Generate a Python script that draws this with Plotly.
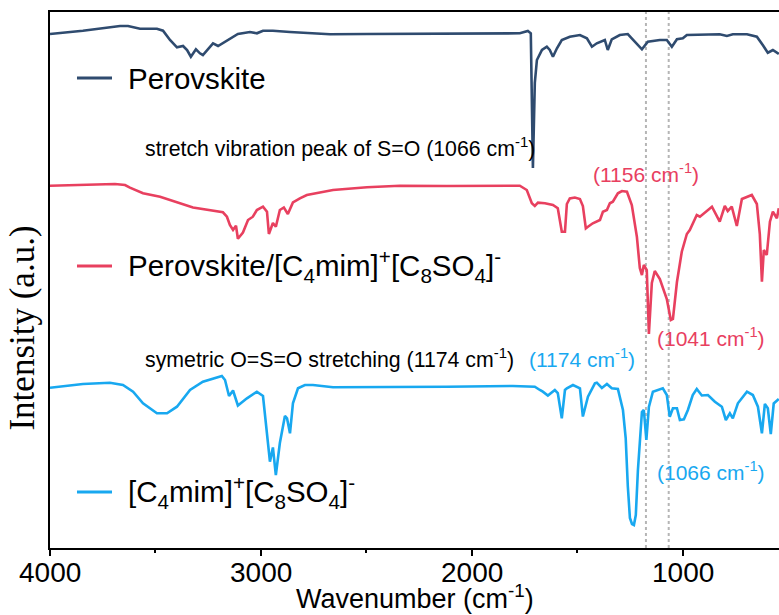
import plotly.graph_objects as go

# FTIR spectra (wavenumber in cm-1, intensity in arbitrary units, stacked)
wn_perov = [4000, 3844, 3668, 3630, 3573, 3493, 3464, 3431, 3398, 3369,
            3350, 3332, 3308, 3289, 3275, 3251, 3227, 3203, 3161, 3109,
            3052, 3019, 2990, 2943, 2862, 2734, 2672, 2497, 2341, 2118,
            1772, 1734, 1720, 1710, 1701, 1691, 1667, 1644, 1630, 1615,
            1596, 1573, 1535, 1487, 1454, 1430, 1407, 1369, 1355, 1336,
            1298, 1260, 1217, 1193, 1165, 1108, 1075, 1051, 1027, 999,
            980, 918, 824, 790, 762, 695, 648, 620, 596, 572, 544]
int_perov = [514, 517.3, 522, 522, 519.3, 519.3, 517.3, 508, 500.7, 502,
             498, 491.3, 498.7, 494.7, 493, 498.7, 504.7, 502, 507.3, 514,
             516, 514.7, 517.3, 517.3, 516, 514.7, 513.7, 514, 514, 514,
             514.7, 517, 514.7, 380, 465, 488, 498, 501.3, 498, 491.3,
             499.7, 508, 511.3, 513, 509.7, 501.3, 504.7, 508, 498, 508.7,
             513, 514, 504.7, 498.7, 506.3, 508, 508, 501.3, 508.7, 509.7,
             513, 513.3, 513.7, 512, 513.7, 513.7, 511.3, 503, 495.3, 498, 494]

wn_mix = [4000, 3844, 3692, 3644, 3621, 3559, 3478, 3322, 3180, 3161,
          3147, 3132, 3118, 3109, 3085, 3061, 3038, 3019, 2990, 2971,
          2962, 2943, 2929, 2910, 2891, 2872, 2848, 2815, 2782, 2658,
          2497, 2341, 2118, 1772, 1739, 1715, 1701, 1686, 1653, 1615,
          1592, 1573, 1558, 1549, 1535, 1511, 1487, 1473, 1459, 1449,
          1426, 1392, 1378, 1359, 1345, 1331, 1307, 1288, 1264, 1241,
          1217, 1203, 1193, 1184, 1170, 1160, 1146, 1132, 1108, 1075,
          1056, 1046, 1027, 1004, 980, 966, 933, 918, 861, 824,
          800, 786, 767, 743, 719, 672, 648, 634, 624, 615,
          601, 586, 572, 553, 544]
int_mix = [362.3, 363.3, 364, 363, 360.3, 354.7, 351.3, 340.5, 335.7, 331.3,
           323, 318, 322.3, 309.3, 315.5, 328, 331.3, 338, 341.3, 336.3,
           314, 325, 321.3, 338, 340.5, 334, 345.5, 349.7, 353, 358,
           360.7, 362.3, 362, 362.3, 358, 344.7, 342, 345.3, 344.7, 343,
           339.7, 316.3, 316.3, 344, 349.5, 350.5, 349, 342, 319.7, 321.3,
           324.7, 328, 336.3, 338, 344.7, 346.3, 354.7, 357, 356.3, 343,
           311.3, 280, 273, 283, 278, 214, 265, 277, 269, 249,
           228, 229, 266, 296.3, 314, 318, 333, 331.3, 341.3, 326.3,
           342, 337, 341.3, 322, 349, 353, 344, 314, 266.3, 298,
           293, 326.3, 336.3, 329.7, 339.7]

wn_il = [4000, 3844, 3716, 3654, 3606, 3559, 3493, 3445, 3398, 3336,
         3275, 3203, 3185, 3170, 3151, 3132, 3109, 3066, 3019, 2990,
         2971, 2957, 2943, 2929, 2910, 2886, 2876, 2862, 2848, 2824,
         2791, 2753, 2658, 2341, 2118, 1805, 1701, 1677, 1663, 1639,
         1615, 1606, 1592, 1573, 1558, 1549, 1520, 1487, 1473, 1449,
         1416, 1407, 1383, 1359, 1336, 1307, 1283, 1270, 1260, 1250,
         1240, 1231, 1222, 1212, 1193, 1184, 1172, 1160, 1141, 1108,
         1094, 1075, 1061, 1046, 1027, 1013, 994, 975, 952, 933,
         909, 880, 847, 814, 795, 776, 762, 738, 695, 667,
         643, 624, 610, 596, 582, 568, 544]
int_il = [160.3, 164, 165.3, 163, 156.3, 144.7, 134.7, 134.7, 141.3, 158,
          166.3, 171.3, 172, 168, 152, 157.5, 142.5, 149.7, 156.3, 152,
          113, 86.3, 100.5, 73, 105, 132, 129.7, 114.7, 144.7, 159.7,
          163, 163, 160.7, 160.7, 161.3, 162, 161.3, 158, 156.3, 152.5,
          156.3, 158, 155, 129.7, 158, 159.7, 163, 159.7, 131.5, 151.3,
          164.7, 165.3, 160, 164, 159.7, 159, 138, 110, 62, 30,
          24, 23, 33, 78, 136, 138, 108, 141, 156.3, 159,
          159.7, 153, 131.3, 139.7, 139.7, 128, 128.7, 138, 153, 159,
          152.5, 153, 146.3, 141.3, 128, 134.7, 129.7, 144.7, 156.3, 153,
          141.3, 114.7, 144, 139.7, 114, 144.5, 149]

series_names = [
    "Perovskite",
    "Perovskite/[C<sub>4</sub>mim]<sup>+</sup>[C<sub>8</sub>SO<sub>4</sub>]<sup>-</sup>",
    "[C<sub>4</sub>mim]<sup>+</sup>[C<sub>8</sub>SO<sub>4</sub>]<sup>-</sup>",
]
series_colors = ["#2f4b6f", "#e8405f", "#18a8f0"]

# reference wavenumbers marked with dotted guides
guide_wn = [1174, 1066]

x_ticks = [4000, 3000, 2000, 1000]
x_range = [4000, 543]
y_range = [0, 536]

FONT = "Arial, Liberation Sans, sans-serif"

fig = go.Figure()
for wn, inten, name, col in zip([wn_perov, wn_mix, wn_il],
                                [int_perov, int_mix, int_il],
                                series_names, series_colors):
    fig.add_trace(go.Scatter(x=wn, y=inten, mode="lines", name=name,
                             line=dict(color=col, width=2.6),
                             showlegend=False))

for g in guide_wn:
    fig.add_shape(type="line", xref="x", yref="paper", x0=g, x1=g, y0=0, y1=1,
                  line=dict(color="#b5b5b5", width=2, dash="dot"), layer="below")

# in-plot legend: short line sample followed by the series label
legend_levels = [470, 282, 56]
for name, col, lvl in zip(series_names, series_colors, legend_levels):
    fig.add_shape(type="line", xref="x", yref="y", x0=3872, x1=3706, y0=lvl, y1=lvl,
                  line=dict(color=col, width=3))
    fig.add_annotation(x=3640, y=lvl, xref="x", yref="y", text=name,
                       showarrow=False, xanchor="left", yanchor="middle",
                       font=dict(family=FONT, size=29.5, color="black"))

notes = [
    ("stretch vibration peak of S=O (1066 cm<sup>-1</sup>)", 3559, 401, "left", "black", 21.3),
    ("(1156 cm<sup>-1</sup>)", 1174, 375, "center", series_colors[1], 21),
    ("(1041 cm<sup>-1</sup>)", 1132, 211, "left", series_colors[1], 21),
    ("symetric O=S=O stretching (1174 cm<sup>-1</sup>)", 3559, 190, "left", "black", 21.3),
    ("(1174 cm<sup>-1</sup>)", 1740, 190, "left", series_colors[2], 21),
    ("(1066 cm<sup>-1</sup>)", 1132, 77, "left", series_colors[2], 21),
]
for txt, x, y, anc, col, sz in notes:
    fig.add_annotation(x=x, y=y, xref="x", yref="y", text=txt, showarrow=False,
                       xanchor=anc, yanchor="middle",
                       font=dict(family=FONT, size=sz, color=col))

# x tick labels, set close under the axis line
for t in x_ticks:
    fig.add_annotation(x=t, y=-0.046, xref="x", yref="paper", text=str(t),
                       showarrow=False, xanchor="center", yanchor="middle",
                       font=dict(family=FONT, size=28, color="black"))

# axis titles
fig.add_annotation(x=-0.038, y=0.41, xref="paper", yref="paper",
                   text="Intensity (a.u.)", textangle=-90, showarrow=False,
                   xanchor="center", yanchor="middle",
                   font=dict(family="Liberation Serif, Times New Roman, serif",
                             size=35, color="black"))
fig.add_annotation(x=0.5, y=-0.0905, xref="paper", yref="paper",
                   text="Wavenumber (cm<sup>-1</sup>)", showarrow=False,
                   xanchor="center", yanchor="middle",
                   font=dict(family=FONT, size=27, color="black"))

fig.update_xaxes(range=x_range, tickvals=x_ticks, showticklabels=False,
                 ticks="outside", ticklen=6, tickwidth=1.5, tickcolor="black",
                 minor=dict(dtick=500, ticks="outside", ticklen=3, tickwidth=1.5,
                            tickcolor="black"),
                 showline=True, linecolor="black", linewidth=1.8, mirror=True,
                 showgrid=False, zeroline=False)
fig.update_yaxes(range=y_range, showticklabels=False, ticks="",
                 showline=True, linecolor="black", linewidth=1.8, mirror=False,
                 showgrid=False, zeroline=False)

fig.update_layout(width=779, height=615, margin=dict(l=50, r=0, t=12, b=67),
                  plot_bgcolor="white", paper_bgcolor="white")

fig.write_html("out.html")
